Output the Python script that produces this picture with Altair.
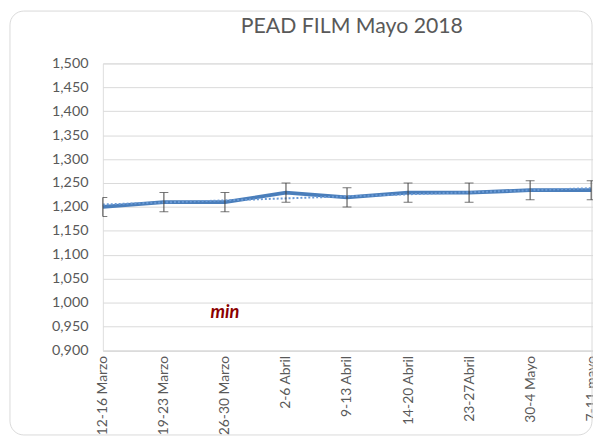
import altair as alt
import pandas as pd

# ---- data ----
semanas = ["12-16 Marzo", "19-23 Marzo", "26-30 Marzo", "2-6 Abril", "9-13 Abril",
           "14-20 Abril", "23-27Abril", "30-4 Mayo", "7-11 mayo"]
valores = [1.200, 1.210, 1.210, 1.230, 1.220, 1.230, 1.230, 1.235, 1.235]
errores = [0.020, 0.020, 0.020, 0.020, 0.020, 0.020, 0.020, 0.020, 0.020]
indices = list(range(len(semanas)))
y_ticks = [0.90, 0.95, 1.00, 1.05, 1.10, 1.15, 1.20, 1.25, 1.30, 1.35, 1.40, 1.45, 1.50]

nota_x = [2]
nota_y = [0.980]
nota_texto = ["min"]

df = pd.DataFrame({
    "i": indices,
    "semana": semanas,
    "valor": valores,
    "lo": [v - e for v, e in zip(valores, errores)],
    "hi": [v + e for v, e in zip(valores, errores)],
})
df_nota = pd.DataFrame({"i": nota_x, "valor": nota_y, "t": nota_texto})

FONT = "Lato"
GRAY = "#595959"
label_expr = "[" + ",".join(f"'{s}'" for s in semanas) + "][datum.value]"

x_scale = alt.Scale(domain=[0, 8.03], nice=False, zero=False)
y_scale = alt.Scale(domain=[0.9, 1.5], nice=False, zero=False)
x_axis = alt.Axis(values=indices, labelExpr=label_expr, labelAngle=-90, grid=False,
                  ticks=False, domainColor="#d9d9d9", labelColor=GRAY, labelFontSize=14,
                  labelFont=FONT, labelPadding=5, labelOverlap=False, title=None)
y_axis = alt.Axis(values=y_ticks, labelExpr="replace(format(datum.value, '.3f'), '.', ',')",
                  grid=True, gridColor="#d9d9d9", domain=False, ticks=False,
                  labelColor=GRAY, labelFontSize=14.5, labelFont=FONT, labelPadding=15,
                  labelOverlap=False, title=None)


def X(f):
    return alt.X(f, scale=x_scale, axis=x_axis)


def Y(f):
    return alt.Y(f, scale=y_scale, axis=y_axis)


border = alt.Chart(pd.DataFrame({"a": [0]})).mark_rect(
    fillOpacity=0, stroke="#d9d9d9", strokeWidth=1, cornerRadius=14, clip=False
).encode(x=alt.value(-94), x2=alt.value(495), y=alt.value(-53), y2=alt.value(376))

base = alt.Chart(df)

line = base.mark_line(color="#4a7ebb", strokeWidth=3.8).encode(x=X("i:Q"), y=Y("valor:Q"))

trend = base.transform_regression("i", "valor").mark_line(
    color="#6a9ad6", strokeWidth=2, strokeDash=[2, 2]
).encode(x=X("i:Q"), y=Y("valor:Q"))

rule = base.mark_rule(color="#404040", strokeWidth=1).encode(x=X("i:Q"), y=Y("lo:Q"), y2="hi:Q")
cap_lo = base.mark_tick(color="#404040", thickness=1, size=9, orient="horizontal", clip=True).encode(
    x=X("i:Q"), y=Y("lo:Q"))
cap_hi = base.mark_tick(color="#404040", thickness=1, size=9, orient="horizontal", clip=True).encode(
    x=X("i:Q"), y=Y("hi:Q"))

nota = alt.Chart(df_nota).mark_text(
    font=FONT, fontSize=18.5, fontStyle="italic", fontWeight="bold", color="#8b0000"
).encode(x=X("i:Q"), y=Y("valor:Q"), text="t:N")

chart = alt.layer(border, line, trend, rule, cap_lo, cap_hi, nota).properties(
    width=496,
    height=290.5,
    title=alt.Title("PEAD FILM Mayo 2018", font=FONT, fontSize=21.5, fontWeight="normal",
                    color=GRAY, anchor="middle", offset=-27, dx=4),
    autosize=alt.AutoSizeParams(type="none"),
    padding={"left": 96, "top": 53.5, "right": 0, "bottom": 88},
).configure_view(stroke=None).configure(background="white")

chart.save("out.html", embed_options={"renderer": "svg", "actions": False})
